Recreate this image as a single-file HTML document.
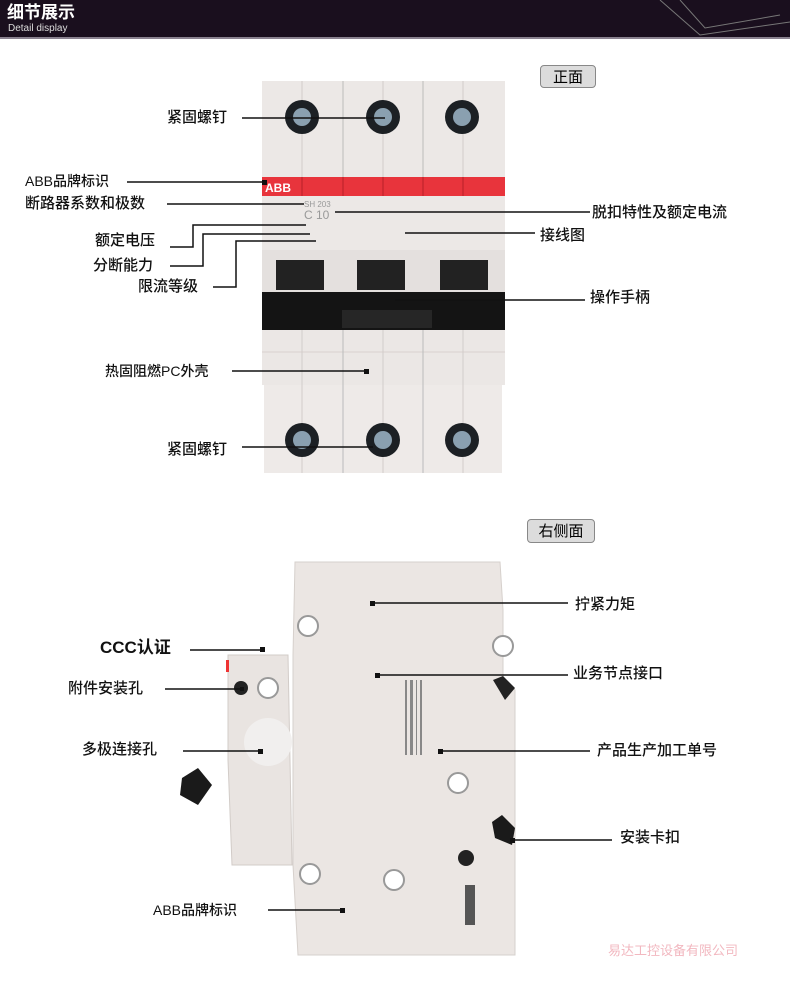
<!DOCTYPE html>
<html><head><meta charset="utf-8"><style>
body{margin:0;width:790px;height:982px;background:#fff;position:relative;overflow:hidden;font-family:"Liberation Sans","Noto Sans CJK SC",sans-serif;}
.l{position:absolute;font-size:15px;color:#111;white-space:nowrap;line-height:18px;font-weight:500}
</style></head><body>
<div style="position:absolute;left:0;top:0;width:790px;height:37px;background:#1a0f1e;border-bottom:2px solid #8a8290"></div>
<div style="position:absolute;left:7px;top:3px;color:#fff;font-weight:bold;font-size:17px;line-height:20px">细节展示</div>
<div style="position:absolute;left:8px;top:23px;color:#ddd;font-size:10px;line-height:12px">Detail display</div>
<svg style="position:absolute;left:0;top:0" width="790" height="982">
<g stroke="#777" fill="none" stroke-width="1"><path d="M660 0 L700 35 L790 22 M680 0 L705 28 L780 15"/></g>
<!-- front breaker -->
<rect x="262" y="81" width="243" height="96" fill="#ece8e6"/>
<g stroke="#d2ccca"><line x1="302" y1="81" x2="302" y2="177"/><line x1="343" y1="81" x2="343" y2="177" stroke="#bbb"/><line x1="383" y1="81" x2="383" y2="177"/><line x1="423" y1="81" x2="423" y2="177" stroke="#bbb"/><line x1="463" y1="81" x2="463" y2="177"/></g>
<rect x="262" y="177" width="243" height="19" fill="#e8343c"/>
<g stroke="#b82028"><line x1="302" y1="177" x2="302" y2="196"/><line x1="343" y1="177" x2="343" y2="196"/><line x1="383" y1="177" x2="383" y2="196"/><line x1="423" y1="177" x2="423" y2="196"/><line x1="463" y1="177" x2="463" y2="196"/></g>
<text x="265" y="192" fill="#fff" font-size="12" font-weight="bold" font-family="Liberation Sans">ABB</text>
<rect x="262" y="196" width="243" height="54" fill="#ece8e6"/>
<text x="304" y="207" fill="#999" font-size="8">SH 203</text>
<text x="304" y="219" fill="#999" font-size="12">C 10</text>
<rect x="262" y="250" width="243" height="45" fill="#e4e0de"/>
<rect x="276" y="260" width="48" height="30" fill="#222"/><rect x="357" y="260" width="48" height="30" fill="#222"/><rect x="440" y="260" width="48" height="30" fill="#222"/>
<rect x="262" y="292" width="243" height="38" fill="#141414"/>
<rect x="342" y="310" width="90" height="18" fill="#262626"/>
<rect x="262" y="330" width="243" height="55" fill="#ebe7e5"/>
<line x1="262" y1="352" x2="505" y2="352" stroke="#d8d2d0"/>
<rect x="264" y="385" width="238" height="88" fill="#eeeae8"/>
<g stroke="#d2ccca"><line x1="302" y1="330" x2="302" y2="473"/><line x1="343" y1="330" x2="343" y2="473" stroke="#bbb"/><line x1="383" y1="330" x2="383" y2="473"/><line x1="423" y1="330" x2="423" y2="473" stroke="#bbb"/><line x1="463" y1="330" x2="463" y2="473"/></g>
<g fill="#1c2024"><circle cx="302" cy="117" r="17"/><circle cx="383" cy="117" r="17"/><circle cx="462" cy="117" r="17"/><circle cx="302" cy="440" r="17"/><circle cx="383" cy="440" r="17"/><circle cx="462" cy="440" r="17"/></g>
<g fill="#8aa0b0"><circle cx="302" cy="117" r="9"/><circle cx="383" cy="117" r="9"/><circle cx="462" cy="117" r="9"/><circle cx="302" cy="440" r="9"/><circle cx="383" cy="440" r="9"/><circle cx="462" cy="440" r="9"/></g>
<!-- side view -->
<path d="M295 562 L500 562 L503 610 L503 680 L515 690 L515 955 L298 955 L293 865 L293 655 Z" fill="#ebe6e3" stroke="#d6d0cc"/>
<path d="M228 655 L288 655 L292 865 L232 865 L228 760 Z" fill="#e9e4e1" stroke="#d2ccc8"/>
<rect x="226" y="660" width="3" height="12" fill="#e33"/>
<g fill="#fff" stroke="#999" stroke-width="2"><circle cx="308" cy="626" r="10"/><circle cx="503" cy="646" r="10"/><circle cx="268" cy="688" r="10"/><circle cx="458" cy="783" r="10"/><circle cx="310" cy="874" r="10"/><circle cx="394" cy="880" r="10"/></g>
<circle cx="241" cy="688" r="7" fill="#222"/><circle cx="466" cy="858" r="8" fill="#222"/>
<circle cx="268" cy="742" r="24" fill="#f1efee"/>
<path d="M182 778 L198 768 L212 785 L198 805 L180 795 Z" fill="#1a1a1a"/>
<path d="M492 822 L502 815 L515 828 L512 845 L495 838 Z" fill="#1a1a1a"/>
<path d="M493 680 L503 676 L515 688 L505 700 Z" fill="#222"/>
<rect x="465" y="885" width="10" height="40" fill="#555"/>
<g fill="#888"><rect x="405" y="680" width="2" height="75"/><rect x="410" y="680" width="3" height="75"/><rect x="416" y="680" width="1" height="75"/><rect x="420" y="680" width="2" height="75"/></g>
<!-- connectors -->
<g stroke="#111" stroke-width="1.5" fill="none">
<line x1="242" y1="118" x2="385" y2="118"/>
<line x1="127" y1="182" x2="264" y2="182"/>
<line x1="167" y1="204" x2="304" y2="204"/>
<polyline points="170,247 193,247 193,225 306,225"/>
<polyline points="170,266 203,266 203,234 310,234"/>
<polyline points="213,287 236,287 236,241 316,241"/>
<line x1="335" y1="212" x2="590" y2="212"/>
<line x1="405" y1="233" x2="535" y2="233"/>
<line x1="395" y1="300" x2="585" y2="300"/>
<line x1="232" y1="371" x2="366" y2="371"/>
<line x1="242" y1="447" x2="373" y2="447"/>
<line x1="372" y1="603" x2="568" y2="603"/>
<line x1="190" y1="650" x2="263" y2="650"/>
<line x1="377" y1="675" x2="568" y2="675"/>
<line x1="165" y1="689" x2="240" y2="689"/>
<line x1="183" y1="751" x2="260" y2="751"/>
<line x1="440" y1="751" x2="590" y2="751"/>
<line x1="512" y1="840" x2="612" y2="840"/>
<line x1="268" y1="910" x2="342" y2="910"/>
</g>
<g fill="#111"><rect x="260" y="647" width="5" height="5"/><rect x="240" y="687" width="4" height="4"/><rect x="258" y="749" width="5" height="5"/><rect x="370" y="601" width="5" height="5"/><rect x="375" y="673" width="5" height="5"/><rect x="438" y="749" width="5" height="5"/><rect x="340" y="908" width="5" height="5"/><rect x="364" y="369" width="5" height="5"/><rect x="262" y="180" width="5" height="5"/><rect x="510" y="838" width="5" height="5"/></g>
</svg>
<div style="position:absolute;left:540px;top:65px;width:56px;height:23px;background:#dcdcdc;border:1px solid #888;border-radius:4px;font-size:15px;text-align:center;line-height:23px;box-sizing:border-box">正面</div>
<div style="position:absolute;left:527px;top:519px;width:68px;height:24px;background:#dcdcdc;border:1px solid #888;border-radius:4px;font-size:15px;text-align:center;line-height:24px;box-sizing:border-box">右侧面</div>
<div class="l" style="left:167px;top:109px">紧固螺钉</div>
<div class="l" style="left:25px;top:172px;font-size:14px">ABB品牌标识</div>
<div class="l" style="left:25px;top:195px">断路器系数和极数</div>
<div class="l" style="left:95px;top:232px">额定电压</div>
<div class="l" style="left:93px;top:257px">分断能力</div>
<div class="l" style="left:138px;top:278px">限流等级</div>
<div class="l" style="left:592px;top:204px">脱扣特性及额定电流</div>
<div class="l" style="left:540px;top:227px">接线图</div>
<div class="l" style="left:590px;top:289px">操作手柄</div>
<div class="l" style="left:105px;top:362px;font-size:14px">热固阻燃PC外壳</div>
<div class="l" style="left:167px;top:441px">紧固螺钉</div>
<div class="l" style="left:575px;top:596px">拧紧力矩</div>
<div class="l" style="left:100px;top:638px;font-size:17px;font-weight:bold;line-height:20px">CCC认证</div>
<div class="l" style="left:573px;top:665px">业务节点接口</div>
<div class="l" style="left:68px;top:680px">附件安装孔</div>
<div class="l" style="left:82px;top:741px">多极连接孔</div>
<div class="l" style="left:597px;top:742px">产品生产加工单号</div>
<div class="l" style="left:620px;top:829px">安装卡扣</div>
<div class="l" style="left:153px;top:901px;font-size:14px">ABB品牌标识</div>
<div class="l" style="left:608px;top:942px;font-size:13px;color:#f2b8c0;font-weight:normal">易达工控设备有限公司</div>
</body></html>
